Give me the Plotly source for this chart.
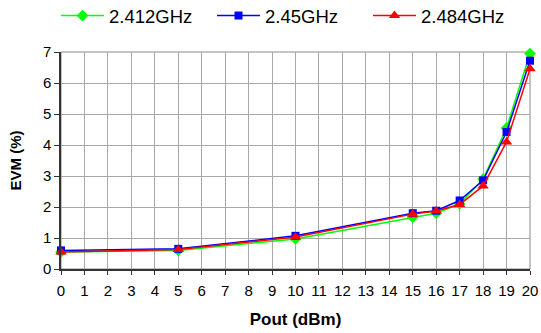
import plotly.graph_objects as go

pout = [0, 5, 10, 15, 16, 17, 18, 19, 20]
evm_2412 = [0.55, 0.60, 0.97, 1.67, 1.80, 2.10, 2.90, 4.55, 6.95]
evm_245 = [0.60, 0.65, 1.07, 1.80, 1.88, 2.21, 2.86, 4.42, 6.72]
evm_2484 = [0.55, 0.63, 1.03, 1.77, 1.87, 2.08, 2.68, 4.10, 6.46]
x_ticks = list(range(0, 21))
y_ticks = list(range(0, 8))

W, H = 541, 333
L, R, T, B = 61, 11, 52, 64
PW = W - L - R
PH = H - T - B

fig = go.Figure()
fig.add_trace(go.Scatter(x=pout, y=evm_2412, name="2.412GHz", mode="lines+markers",
                         line=dict(color="#00FF00", width=1.5),
                         marker=dict(symbol="diamond", size=9, color="#00FF00"),
                         cliponaxis=False))
fig.add_trace(go.Scatter(x=pout, y=evm_245, name="2.45GHz", mode="lines+markers",
                         line=dict(color="#0000FF", width=1.5),
                         marker=dict(symbol="square", size=8, color="#0000FF"),
                         cliponaxis=False))
fig.add_trace(go.Scatter(x=pout, y=evm_2484, name="2.484GHz", mode="lines+markers",
                         line=dict(color="#FF0000", width=1.5),
                         marker=dict(symbol="triangle-up", size=10, color="#FF0000"),
                         cliponaxis=False))

fig.update_layout(
    width=W, height=H,
    margin=dict(l=L, r=R, t=T, b=B, autoexpand=False),
    paper_bgcolor="white", plot_bgcolor="white",
    font=dict(family="Liberation Sans, Arial", color="black", size=15),
    legend=dict(orientation="h", xref="container", x=56 / W, xanchor="left",
                yref="paper", y=1 + 36 / PH, yanchor="middle",
                font=dict(size=18.5), itemwidth=43, entrywidth=98,
                traceorder="normal", tracegroupgap=0),
    xaxis=dict(range=[0, 20], tickvals=x_ticks, ticktext=[str(v) for v in x_ticks],
               showgrid=True, gridcolor="#A8A8A8", gridwidth=1,
               showline=True, linecolor="#333333", linewidth=1.5, mirror=False,
               ticks="outside", ticklen=4, tickcolor="#333333",
               ticklabelstandoff=3,
               title=dict(text="<b>Pout (dBm)</b>", font=dict(size=17), standoff=15),
               zeroline=False),
    yaxis=dict(range=[0, 7], tickvals=y_ticks,
               showgrid=True, gridcolor="#A8A8A8", gridwidth=1,
               showline=True, linecolor="#333333", linewidth=1.5,
               ticks="outside", ticklen=5, tickcolor="#333333", automargin=False,
               zeroline=False),
)
fig.add_annotation(text="<b>EVM (%)</b>", xref="paper", yref="paper",
                   x=(15 - L) / PW, y=0.5, xanchor="center", yanchor="middle",
                   textangle=-90, showarrow=False, font=dict(size=15))
fig.add_shape(type="rect", xref="paper", yref="paper", x0=0, y0=0, x1=1, y1=1,
              line=dict(color="#888888", width=1), layer="below")

fig.write_html("out.html", config={"displayModeBar": False},
               post_script="document.body.style.margin='0';document.body.style.overflow='hidden';")
